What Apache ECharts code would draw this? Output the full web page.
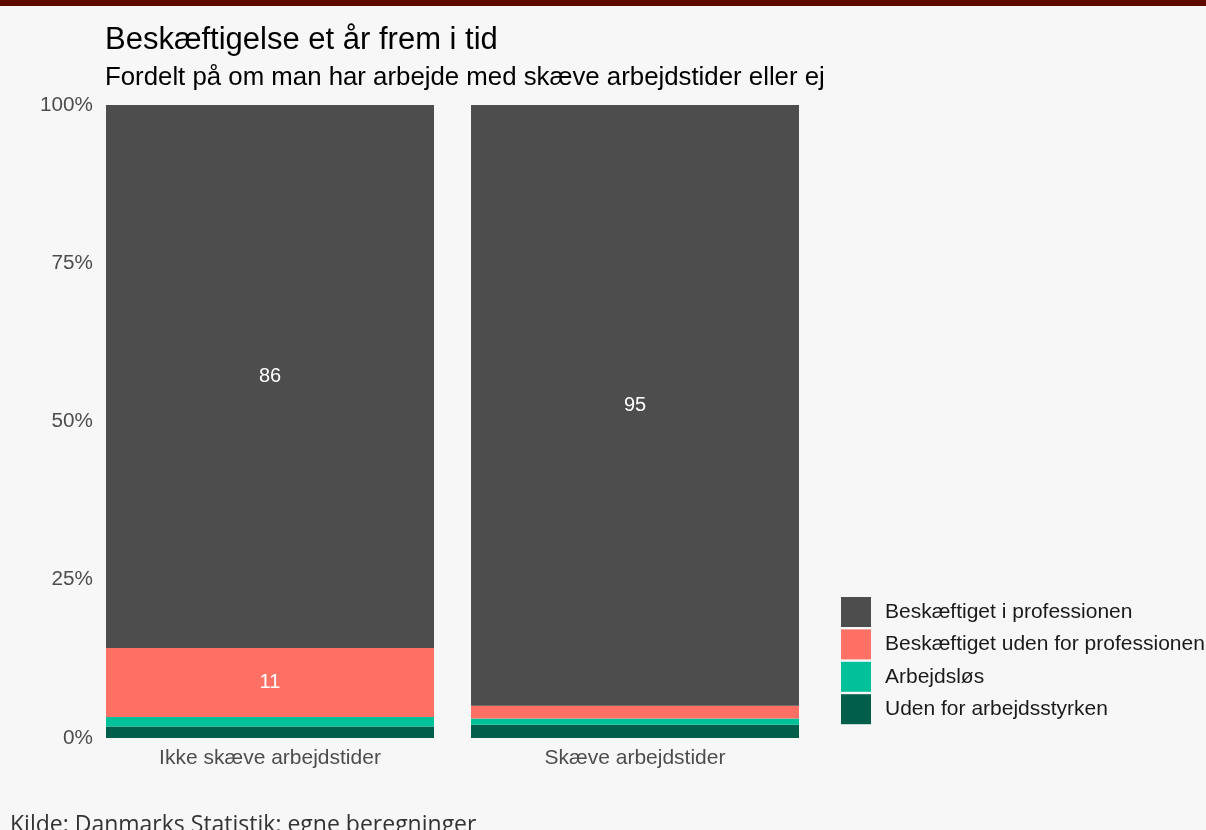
<!DOCTYPE html>
<html>
<head>
<meta charset="utf-8">
<script src="https://cdn.jsdelivr.net/npm/echarts@6/dist/echarts.min.js"></script>
<style>
html,body{margin:0;padding:0;background:#f7f7f7;}
#chart{width:1206px;height:830px;}
</style>
</head>
<body>
<div id="chart"></div>
<script>
const categories = ['Ikke skæve arbejdstider', 'Skæve arbejdstider'];
const seriesNames = ['Beskæftiget i professionen', 'Beskæftiget uden for professionen', 'Arbejdsløs', 'Uden for arbejdsstyrken'];
const iProfessionen = [85.8, 94.9];
const udenForProfessionen = [10.9, 2.0];
const arbejdslos = [1.5, 1.0];
const udenForArbejdsstyrken = [1.8, 2.1];
const yTicks = [0, 25, 50, 75, 100];

const colors = {
  'Beskæftiget i professionen': '#4d4d4d',
  'Beskæftiget uden for professionen': '#ff7064',
  'Arbejdsløs': '#00c19a',
  'Uden for arbejdsstyrken': '#005e4b'
};
const FONT = '"Liberation Sans", Arial, sans-serif';

function mkSeries(name, data) {
  return {
    name: name,
    type: 'bar',
    stack: 'total',
    data: data,
    barWidth: 328,
    itemStyle: { color: colors[name] },
    label: {
      show: true,
      position: 'inside',
      color: '#ffffff',
      fontFamily: FONT,
      fontSize: 20,
      formatter: p => p.value >= 5 ? String(Math.round(p.value)) : ''
    },
    emphasis: { disabled: true }
  };
}

const chart = echarts.init(document.getElementById('chart'));
chart.setOption({
  backgroundColor: '#f7f7f7',
  animation: false,
  title: [
    { text: 'Beskæftigelse et år frem i tid', left: 100, top: 20,
      textStyle: { fontFamily: FONT, fontSize: 31, fontWeight: 'normal', color: '#000' } },
    { text: 'Fordelt på om man har arbejde med skæve arbejdstider eller ej', left: 100, top: 60,
      textStyle: { fontFamily: FONT, fontSize: 25.8, fontWeight: 'normal', color: '#000' } }
  ],
  graphic: [
    { type: 'rect', left: 0, top: 0, shape: { width: 1206, height: 6 }, style: { fill: '#5f0b04' } },
    { type: 'text', left: 10, top: 814, style: { text: 'Kilde: Danmarks Statistik; egne beregninger',
      fontFamily: '"Open Sans", sans-serif', fontSize: 23, fill: '#333' } }
  ],
  legend: {
    orient: 'vertical',
    left: 836,
    top: 592,
    icon: 'rect',
    itemWidth: 30,
    itemHeight: 30,
    itemGap: 2.4,
    data: seriesNames,
    textStyle: { fontFamily: FONT, fontSize: 21, color: '#1a1a1a', padding: [0, 0, 0, 9] },
    selectedMode: false
  },
  grid: { left: 87.5, right: 388.5, top: 105, bottom: 92, containLabel: false },
  xAxis: {
    type: 'category',
    data: categories,
    axisLine: { show: false },
    axisTick: { show: false },
    axisLabel: { fontFamily: FONT, fontSize: 21, color: '#4d4d4d', margin: 10 }
  },
  yAxis: {
    type: 'value',
    min: 0,
    max: 100,
    interval: 25,
    splitLine: { show: false },
    axisLine: { show: false },
    axisTick: { show: false },
    axisLabel: { fontFamily: FONT, fontSize: 20.7, color: '#4d4d4d', margin: -5.5,
      formatter: v => yTicks.includes(v) ? v + '%' : '' }
  },
  series: [
    mkSeries('Uden for arbejdsstyrken', udenForArbejdsstyrken),
    mkSeries('Arbejdsløs', arbejdslos),
    mkSeries('Beskæftiget uden for professionen', udenForProfessionen),
    mkSeries('Beskæftiget i professionen', iProfessionen)
  ]
});
</script>
</body>
</html>
